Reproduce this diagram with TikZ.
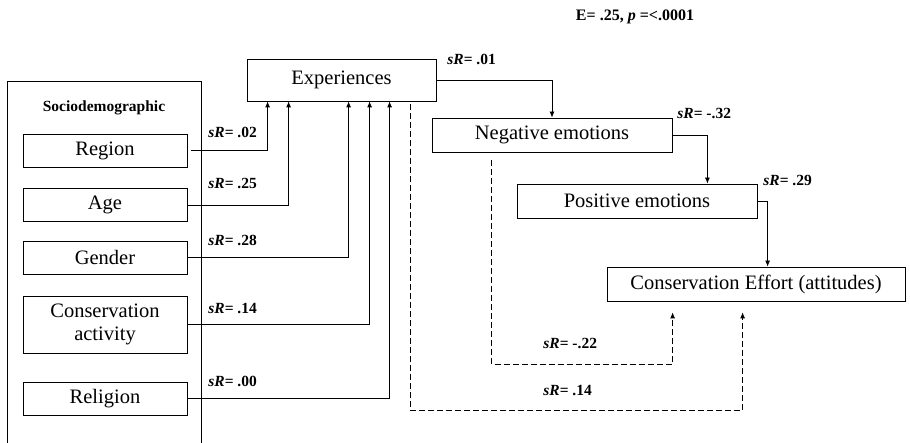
\documentclass[tikz,border=0pt]{standalone}
\usepackage{fontspec}
\setmainfont{Liberation Serif}
\usepackage{tikz}
\usetikzlibrary{arrows.meta, positioning}

\begin{document}
\begin{tikzpicture}[x=1pt, y=-1pt, line width=0.8pt,
        box/.style={draw, rectangle, inner sep=0pt, minimum width=164pt, minimum height=33pt, font=\fontsize{20.5}{23}\selectfont, align=center},
        coef/.style={anchor=west, inner sep=0pt, font=\fontsize{15.5}{17}\selectfont\bfseries},
        arr/.style={-{Latex[length=6pt, width=5pt]}},
        darr/.style={arr, dashed, dash pattern=on 6pt off 3pt}]
        \useasboundingbox (0,0) rectangle (910,443);

        \draw (7,443) -- (7,81) -- (201,81) -- (201,443);
        \node[inner sep=0pt, font=\fontsize{15.5}{17}\selectfont\bfseries] (socio) at (104,108) {Sociodemographic};

        \node[box] (region) at (105,150.5) {Region};
        \node[box] (age) at (105,205) {Age};
        \node[box] (gender) at (105,257.5) {Gender};
        \node[box, minimum height=57pt] (activity) at (105,324.5) {Conservation\\activity};
        \node[box] (religion) at (105,398.5) {Religion};

        \node[box, minimum width=189pt, minimum height=42pt] (exp) at (341.5,80) {Experiences};
        \node[box, minimum width=240pt, minimum height=34pt] (neg) at (552,135) {Negative emotions};
        \node[box, minimum width=240pt, minimum height=34pt] (pos) at (637,201) {Positive emotions};
        \node[box, minimum width=298pt, minimum height=34pt] (effort) at (756,284) {Conservation Effort (attitudes)};

        \node[inner sep=0pt, font=\fontsize{16}{18}\selectfont\bfseries] (fit) at (635,17) {E= .25, {\itshape p} =<.0001};

        \node[coef] (sr1) at (208,132) {{\itshape sR}= .02};
        \node[coef] (sr2) at (208,183) {{\itshape sR}= .25};
        \node[coef] (sr3) at (208,240) {{\itshape sR}= .28};
        \node[coef] (sr4) at (208,308) {{\itshape sR}= .14};
        \node[coef] (sr5) at (208,381) {{\itshape sR}= .00};
        \node[coef] (sr6) at (447,59) {{\itshape sR}= .01};
        \node[coef] (sr7) at (677,113) {{\itshape sR}= -.32};
        \node[coef] (sr8) at (763,180) {{\itshape sR}= .29};
        \node[coef] (sr9) at (543,343) {{\itshape sR}= -.22};
        \node[coef] (sr10) at (543,390) {{\itshape sR}= .14};

        \draw[arr] ([xshift=4pt]region.east) -| ([xshift=21pt]exp.south west);
        \draw[arr] (age.east) -| ([xshift=42pt]exp.south west);
        \draw[arr] (gender.east) -| ([xshift=102pt]exp.south west);
        \draw[arr] (activity.east) -| ([xshift=123pt]exp.south west);
        \draw[arr] (religion.east) -| ([xshift=143pt]exp.south west);

        \draw[arr] (exp.east) -| (neg.north);
        \draw[arr] (neg.east) -| ([xshift=-50pt]pos.north east);
        \draw[arr] (pos.east) -| ([xshift=161pt]effort.north west);

        \draw[darr] ([xshift=60pt, yshift=-8pt]neg.south west) -- ++(0,204) -| ([xshift=66pt, yshift=-11pt]effort.south west);
        \draw[darr] ([xshift=-26pt, yshift=-3pt]exp.south east) -- ++(0,306) -| ([xshift=136pt, yshift=-11pt]effort.south west);
    \end{tikzpicture}
\end{document}
